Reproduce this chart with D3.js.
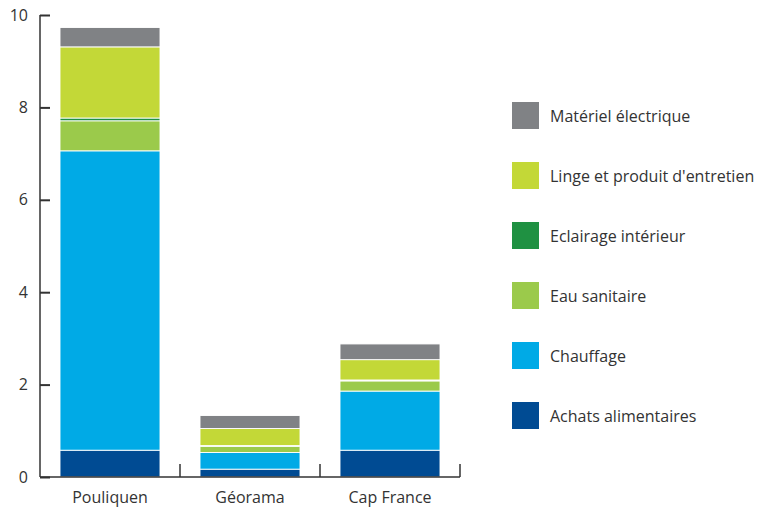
<!DOCTYPE html>
<html><head><meta charset="utf-8">
<script src="https://cdn.jsdelivr.net/npm/d3@7"></script>
<style>body{margin:0;background:#fff;} text{font-family:"Open Sans",sans-serif;fill:#333;}</style>
</head><body><svg id="c" width="759" height="508"></svg>
<script>
const categories = ["Pouliquen", "Géorama", "Cap France"];
const seriesNames = ["Achats alimentaires", "Chauffage", "Eau sanitaire", "Eclairage intérieur", "Linge et produit d'entretien", "Matériel électrique"];
const achats    = [0.58, 0.17, 0.58];
const chauffage = [6.48, 0.36, 1.28];
const eau       = [0.65, 0.13, 0.22];
const eclairage = [0.06, 0.02, 0.02];
const linge     = [1.54, 0.37, 0.44];
const materiel  = [0.42, 0.28, 0.34];
const colors = ["#004b93", "#00aae6", "#9bca4b", "#1f9142", "#c3d837", "#808285"];
const yTicks = [0, 2, 4, 6, 8, 10];

const seriesValues = [achats, chauffage, eau, eclairage, linge, materiel];
const rows = categories.map((c, i) => {
  const r = {cat: c};
  seriesNames.forEach((s, j) => r[s] = seriesValues[j][i]);
  return r;
});
const stack = d3.stack().keys(seriesNames)(rows);

const svg = d3.select("#c");
const x = d3.scaleBand().domain(categories).range([40, 460]).paddingInner(2/7).paddingOuter(1/7);
const y = d3.scaleLinear().domain([0, 10]).range([477, 15]);

svg.append("g").selectAll("g").data(stack).join("g")
  .attr("fill", (d, i) => colors[i])
  .selectAll("rect").data(d => d).join("rect")
  .attr("x", d => x(d.data.cat))
  .attr("width", x.bandwidth())
  .attr("y", d => y(d[1]))
  .attr("height", d => y(d[0]) - y(d[1]))
  .attr("stroke", "#fff").attr("stroke-width", 0.9);

// y axis
const ya = svg.append("g").attr("transform", "translate(40,0)")
  .call(d3.axisRight(y).tickValues(yTicks).tickSize(10).tickFormat(d3.format("d")));
ya.select(".domain").attr("stroke", "#333").attr("stroke-width", 1.5).attr("d", `M0,${y(10)}V${y(0)}`);
ya.selectAll(".tick line").attr("stroke", "#333").attr("stroke-width", 2);
ya.selectAll(".tick text").attr("x", -12).attr("text-anchor", "end").attr("font-size", 16).attr("fill", "#333").attr("font-family", "Open Sans");

// x axis
const xa = svg.append("g").attr("transform", "translate(0,477)")
  .call(d3.axisBottom(x).tickSize(0).tickPadding(12));
xa.select(".domain").attr("stroke", "#333").attr("stroke-width", 1.5).attr("d", "M40,0H460");
xa.selectAll(".tick text").attr("font-size", 16).attr("fill", "#333").attr("font-family", "Open Sans").attr("dy", "0.85em");
const seps = categories.slice(1).map(c => x(c) - x.step() * x.paddingInner() / 2).concat([x(categories[2]) + x.bandwidth() + x.step() * x.paddingInner() / 2]);
svg.append("g").selectAll("line").data(seps).join("line")
  .attr("x1", d => d).attr("x2", d => d)
  .attr("y1", 464).attr("y2", 477)
  .attr("stroke", "#333").attr("stroke-width", 1.5);

// legend
const legendOrder = seriesNames.map((s, i) => ({s, c: colors[i]})).reverse();
const lg = svg.append("g").selectAll("g").data(legendOrder).join("g")
  .attr("transform", (d, i) => `translate(512,${102 + i * 60})`);
lg.append("rect").attr("width", 27).attr("height", 27).attr("fill", d => d.c);
lg.append("text").attr("x", 38).attr("y", 14).attr("dy", "0.35em")
  .attr("font-size", 16).text(d => d.s);
</script>
</body></html>
